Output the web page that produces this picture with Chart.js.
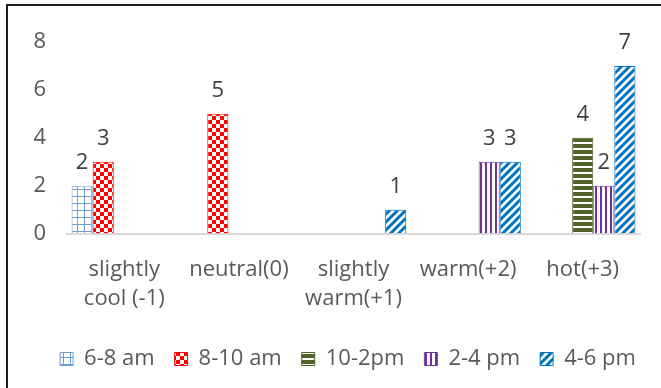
<!DOCTYPE html>
<html>
<head>
<meta charset="utf-8">
<script src="https://cdn.jsdelivr.net/npm/chart.js@4/dist/chart.umd.min.js"></script>
<style>
  html, body { margin: 0; padding: 0; background: #fff; overflow: hidden; }
  #wrap { position: relative; width: 661px; height: 388px; }
  #frame {
    position: absolute; left: 6px; top: 4px; width: 700px; height: 400px;
    border-left: 2px solid #1e1e1e; border-top: 2px solid #1e1e1e;
    pointer-events: none;
  }
  canvas { position: absolute; left: 0; top: 0; }
</style>
</head>
<body>
<div id="wrap">
  <div id="frame"></div>
  <canvas id="chart" width="661" height="388"></canvas>
</div>
<script>
// Thermal sensation votes by time of day
const categories = [['slightly', 'cool (-1)'], 'neutral(0)', ['slightly', 'warm(+1)'], 'warm(+2)', 'hot(+3)'];
const seriesNames = ['6-8 am', '8-10 am', '10-2pm', '2-4 pm', '4-6 pm'];
const votes6to8   = [2, null, null, null, null];
const votes8to10  = [3, 5, null, null, null];
const votes10to2  = [null, null, null, null, 4];
const votes2to4   = [null, null, null, 3, 2];
const votes4to6   = [null, null, 1, 3, 7];
const yTicks = [0, 2, 4, 6, 8];

const FONT = '"Open Sans", "DejaVu Sans", sans-serif';

function makeTile(w, h, draw) {
  const c = document.createElement('canvas');
  c.width = w; c.height = h;
  const g = c.getContext('2d');
  g.fillStyle = '#ffffff';
  g.fillRect(0, 0, w, h);
  draw(g, w, h);
  return g.createPattern(c, 'repeat');
}

const ctx = document.getElementById('chart').getContext('2d');

// fills for each series
const gridFill = makeTile(7, 7, (g) => {
  g.fillStyle = '#6f9ed6';
  g.fillRect(0, 0, 7, 1);
  g.fillRect(0, 0, 1, 7);
});
const checkFill = makeTile(8, 8, (g) => {
  g.fillStyle = '#ff0000';
  g.fillRect(0, 0, 4, 4);
  g.fillRect(4, 4, 4, 4);
});
const hStripeFill = makeTile(6, 6, (g) => {
  g.fillStyle = '#4f6228';
  g.fillRect(0, 0, 6, 4);
});
const vStripeFill = makeTile(5, 5, (g) => {
  g.fillStyle = '#7030a0';
  g.fillRect(0, 0, 2, 5);
});
const diagFill = makeTile(8, 8, (g) => {
  g.strokeStyle = '#0070c0';
  g.lineWidth = 3;
  g.beginPath();
  g.moveTo(-2, 10); g.lineTo(10, -2);
  g.moveTo(-6, 6); g.lineTo(6, -6);
  g.moveTo(2, 14); g.lineTo(14, 2);
  g.stroke();
});

// value printed above each bar
const valueLabels = {
  id: 'valueLabels',
  afterDatasetsDraw(chart) {
    const c = chart.ctx;
    c.save();
    c.font = '22px ' + FONT;
    c.fillStyle = '#404040';
    c.textAlign = 'center';
    c.textBaseline = 'alphabetic';
    chart.data.datasets.forEach((ds, i) => {
      const meta = chart.getDatasetMeta(i);
      meta.data.forEach((bar, j) => {
        const v = ds.data[j];
        if (v === null || v === undefined) return;
        c.fillText(String(v), bar.x, bar.y - 17);
      });
    });
    c.restore();
  }
};

// nudge the legend row to the right of the centred position
const legendShift = {
  id: 'legendShift',
  afterLayout(chart) {
    const lg = chart.legend;
    if (lg) { lg.left += 23; lg.right += 23; }
  }
};

new Chart(ctx, {
  type: 'bar',
  data: {
    labels: categories,
    datasets: [
      { label: seriesNames[0], data: votes6to8,  backgroundColor: gridFill,    borderColor: '#6f9ed6', borderWidth: 1 },
      { label: seriesNames[1], data: votes8to10, backgroundColor: checkFill,   borderColor: '#ff0000', borderWidth: 1 },
      { label: seriesNames[2], data: votes10to2, backgroundColor: hStripeFill, borderColor: '#4f6228', borderWidth: 1 },
      { label: seriesNames[3], data: votes2to4,  backgroundColor: vStripeFill, borderColor: '#7030a0', borderWidth: 1 },
      { label: seriesNames[4], data: votes4to6,  backgroundColor: diagFill,    borderColor: '#0070c0', borderWidth: 1 }
    ]
  },
  options: {
    responsive: false,
    animation: false,
    layout: { padding: { left: 10, right: 21, top: 42, bottom: 8 } },
    datasets: { bar: { categoryPercentage: 0.92, barPercentage: 1, skipNull: false } },
    scales: {
      x: {
        grid: { display: false, drawTicks: false },
        border: { display: true, color: '#d9d9d9', width: 2 },
        afterFit(scale) { scale.height -= 7; },
        ticks: {
          color: '#595959',
          font: { family: FONT, size: 22, lineHeight: 1.35 },
          padding: 21,
          maxRotation: 0,
          autoSkip: false
        }
      },
      y: {
        min: 0, max: 8,
        afterBuildTicks(scale) { scale.ticks = yTicks.map(v => ({ value: v })); },
        afterFit(scale) { scale.width = 57; },
        grid: { display: false, drawTicks: false },
        border: { display: false },
        ticks: {
          color: '#595959',
          font: { family: FONT, size: 22 },
          padding: 21
        }
      }
    },
    plugins: {
      legend: {
        position: 'bottom',
        labels: {
          color: '#595959',
          font: { family: FONT, size: 22 },
          boxWidth: 13,
          boxHeight: 13,
          padding: 20
        }
      },
      tooltip: { enabled: false }
    }
  },
  plugins: [valueLabels, legendShift]
});
</script>
</body>
</html>
